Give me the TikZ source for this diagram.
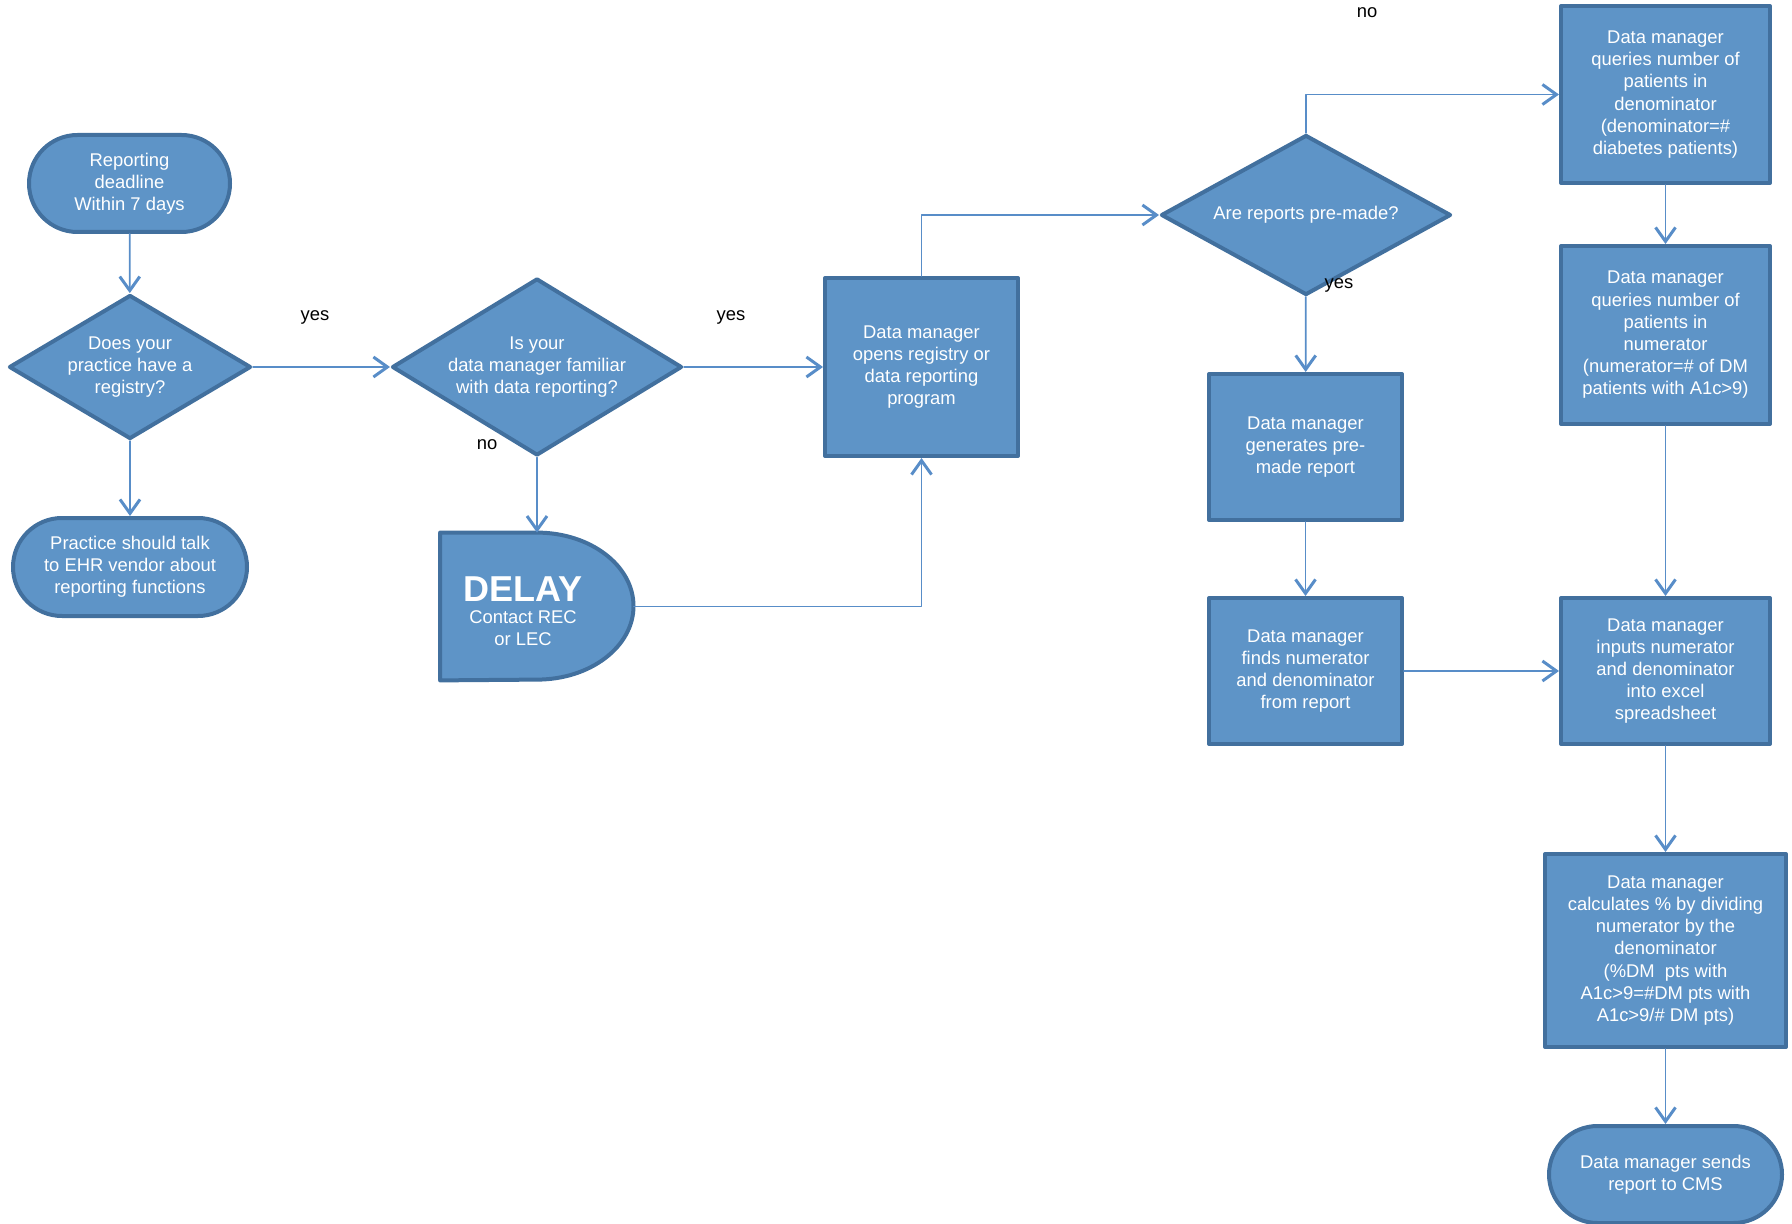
\documentclass[tikz,border=0pt]{standalone}
\usepackage{fontspec}
\setmainfont{Liberation Sans}
\usetikzlibrary{shapes.geometric,shapes.misc,arrows.meta}
\definecolor{boxblue}{RGB}{94,148,199}
\definecolor{edgeblue}{RGB}{66,112,158}
\definecolor{lineblue}{RGB}{88,141,200}

\begin{document}
\begin{tikzpicture}[line cap=round,line join=round,x=0.5pt,y=-0.5pt,
    font=\fontsize{9.2}{11.1}\selectfont,
    box/.style={draw=edgeblue,fill=boxblue,line width=2pt,text=white,align=center,inner sep=2pt},
    proc/.style={box,rectangle},
    term/.style={box,rounded rectangle},
    dec/.style={box,diamond,inner sep=0pt},
    flow/.style={draw=lineblue,line width=0.9pt,-{Straight Barb[length=7pt,width=10pt,line width=1.5pt]}},
    lbl/.style={text=black}]

    \useasboundingbox (0,0) rectangle (1792,1224);

    \node[term,minimum width=104.5pt,minimum height=48.5pt] (start) at (129.5,183.5) {Reporting\\deadline\\Within 7 days};
    \node[dec,aspect=1.68,minimum width=121pt,minimum height=72pt] (d1) at (130,367) {Does your\\practice have a\\registry?};
    \node[term,minimum width=121pt,minimum height=49pt] (practice) at (130,567) {Practice should talk\\to EHR vendor about\\reporting functions};

    \node[dec,aspect=1.65,minimum width=145pt,minimum height=88.5pt] (d2) at (537,367) {Is your\\data manager familiar\\with data reporting?};
    \node[minimum width=96.5pt,minimum height=73.5pt,inner sep=0pt] (delay) at (537,606.5) {};
    \draw[draw=edgeblue,fill=boxblue,line width=2pt] (delay.north west) -- (delay.north) arc[start angle=90,end angle=-90,x radius=48.25pt,y radius=36.75pt] -- (delay.south west) -- cycle;
    \node[text=white,align=center] (delaytxt) at (523,611) {{\fontsize{18}{19}\selectfont\bfseries DELAY}\\Contact REC\\or LEC};

    \node[proc,minimum width=96.5pt,minimum height=89pt] (opens) at (921.5,367) {Data manager\\opens registry or\\data reporting\\program};

    \node[dec,aspect=1.81,minimum width=145pt,minimum height=80pt] (d3) at (1306,215) {Are reports pre-made?};
    \node[proc,minimum width=96.5pt,minimum height=73pt] (gen) at (1305.5,447) {Data manager\\generates pre-\\made report};
    \node[proc,minimum width=96.5pt,minimum height=73pt] (finds) at (1305.5,671) {Data manager\\finds numerator\\and denominator\\from report};

    \node[proc,minimum width=104.5pt,minimum height=88.5pt] (qden) at (1665.5,94.5) {Data manager\\queries number of\\patients in\\denominator\\(denominator=\#\\diabetes patients)};
    \node[proc,minimum width=104.5pt,minimum height=89pt] (qnum) at (1665.5,335) {Data manager\\queries number of\\patients in\\numerator\\(numerator=\# of DM\\patients with A1c>9)};
    \node[proc,minimum width=104.5pt,minimum height=73pt] (inputs) at (1665.5,671) {Data manager\\inputs numerator\\and denominator\\into excel\\spreadsheet};
    \node[proc,minimum width=120.5pt,minimum height=96.5pt] (calc) at (1665.5,950.5) {Data manager\\calculates \% by dividing\\numerator by the\\denominator\\(\%DM\ \ pts with\\A1c>9=\#DM pts with\\A1c>9/\# DM pts)};
    \node[term,minimum width=120.5pt,minimum height=48.5pt] (sends) at (1665.5,1174.5) {Data manager sends\\report to CMS};

    \draw[flow] (start) -- (d1);
    \draw[flow] (d1) -- (d2);
    \draw[flow] (d1) -- (practice);
    \draw[flow] (d2) -- (opens);
    \draw[flow] (d2) -- (delay);
    \draw[flow] (delay.east) -| (opens.south);
    \draw[flow] (opens.north) |- (d3.west);
    \draw[flow] (d3.north) |- (qden.west);
    \draw[flow] (d3) -- (gen);
    \draw[flow] (gen) -- (finds);
    \draw[flow] (finds) -- (inputs);
    \draw[flow] (qden) -- (qnum);
    \draw[flow] (qnum) -- (inputs);
    \draw[flow] (inputs) -- (calc);
    \draw[flow] (calc) -- (sends);

    \node[lbl] (yes1) at (315,317) {yes};
    \node[lbl] (yes2) at (731,317) {yes};
    \node[lbl] (no1) at (487,445) {no};
    \node[lbl] (no2) at (1367,13) {no};
    \node[lbl] (yes3) at (1339,285) {yes};
\end{tikzpicture}
\end{document}
